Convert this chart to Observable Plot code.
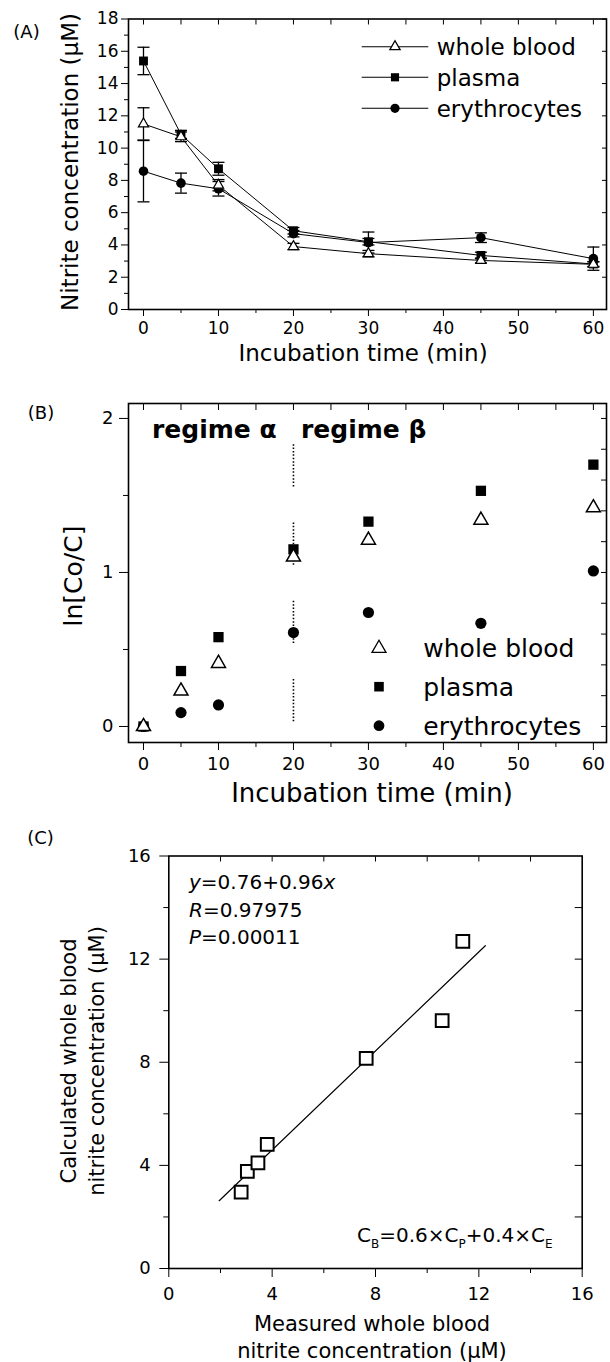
<!DOCTYPE html>
<html><head><meta charset="utf-8">
<script src="https://cdn.jsdelivr.net/npm/d3@7"></script>
<script src="https://cdn.jsdelivr.net/npm/@observablehq/plot@0.6"></script>
<style>
body{margin:0;background:#fff;}
#wrap{position:relative;width:610px;height:1362px;overflow:hidden;background:#fff;}
#wrap > svg{position:absolute;left:0;}
</style></head><body><div id="wrap"></div>
<script>
// ---------- data ----------
const times = [0, 5, 10, 20, 30, 45, 60];
const seriesNames = ["whole blood", "plasma", "erythrocytes"];
// Panel A: nitrite concentration (µM), mean and error
const wholeBlood = [11.5, 10.7, 7.7, 3.9, 3.46, 3.04, 2.8];
const wholeBloodErr = [1.0, 0.3, 0.35, 0.2, 0.2, 0.15, 0.15];
const plasma = [15.4, 10.85, 8.72, 4.88, 4.2, 3.35, 2.82];
const plasmaErr = [0.85, 0.25, 0.4, 0.2, 0.2, 0.2, 0.15];
const erythrocytes = [8.57, 7.83, 7.48, 4.7, 4.15, 4.45, 3.15];
const erythrocytesErr = [1.9, 0.62, 0.45, 0.2, 0.65, 0.3, 0.72];
// Panel B: ln[Co/C]
const lnWholeBlood = [0, 0.23, 0.41, 1.1, 1.21, 1.34, 1.42];
const lnPlasma = [0, 0.36, 0.58, 1.15, 1.33, 1.53, 1.7];
const lnErythrocytes = [0, 0.09, 0.14, 0.61, 0.74, 0.67, 1.01];
const regimeBoundary = [{t: 20, from: 0.03, to: 1.9}];
// Panel C: measured vs calculated whole blood nitrite
const measured = [2.8, 3.04, 3.45, 3.81, 7.64, 10.58, 11.38];
const calculated = [2.96, 3.77, 4.1, 4.81, 8.15, 9.61, 12.69];
const fitX = [1.95, 12.25];
const fitY = [2.63, 12.52];
// ticks
const aXTicks = [0, 10, 20, 30, 40, 50, 60];
const aXMinor = [5, 15, 25, 35, 45, 55];
const aXTop = [0, 5, 10, 15, 20, 25, 30, 35, 40, 45, 50, 55, 60];
const aYTicks = [0, 2, 4, 6, 8, 10, 12, 14, 16, 18];
const aYMinor = [1, 3, 5, 7, 9, 11, 13, 15, 17];
const bYTicks = [0, 1, 2];
const bYMinor = [0.5, 1.5];
const bYRight = [0, 0.2, 0.4, 0.6, 0.8, 1, 1.2, 1.4, 1.6, 1.8, 2];
const cTicks = [0, 4, 8, 12, 16];
const cMinor = [2, 6, 10, 14];
const cInner = [2, 4, 6, 8, 10, 12, 14];

// ---------- tables ----------
const rowsA = times.flatMap((t, i) => [
  {t, v: wholeBlood[i], e: wholeBloodErr[i], s: seriesNames[0]},
  {t, v: plasma[i], e: plasmaErr[i], s: seriesNames[1]},
  {t, v: erythrocytes[i], e: erythrocytesErr[i], s: seriesNames[2]}
]);
const rowsB = times.flatMap((t, i) => [
  {t, v: lnWholeBlood[i], s: seriesNames[0]},
  {t, v: lnPlasma[i], s: seriesNames[1]},
  {t, v: lnErythrocytes[i], s: seriesNames[2]}
]);
const rowsC = measured.map((m, i) => ({m, c: calculated[i]}));
const fitRows = fitX.map((x, i) => ({x, y: fitY[i]}));

const FONT = "DejaVu Sans, Verdana, sans-serif";
const cap = {draw(ctx) { ctx.moveTo(-6, 0); ctx.lineTo(6, 0); }};
const blank = () => "";

function frameAxes(o) {
  return [
    Plot.frame({stroke: "black", strokeWidth: 1.6}),
    Plot.axisX(o.xMajor, {anchor: "bottom", tickSize: o.xTick, tickPadding: o.xPad, label: null, tickFormat: d => String(d)}),
    Plot.axisX(o.xMinor, {anchor: "bottom", tickSize: o.xMinorSize, tickFormat: blank, label: null}),
    Plot.axisX(o.xTop, {anchor: "top", tickSize: -o.topSize, tickFormat: blank, label: null}),
    Plot.axisY(o.yMajor, {anchor: "left", tickSize: o.yTick, tickPadding: o.yPad, label: null, tickFormat: d => String(d)}),
    Plot.axisY(o.yMinor, {anchor: "left", tickSize: o.yMinorSize, tickFormat: blank, label: null}),
    Plot.axisY(o.yRight, {anchor: "right", tickSize: -o.rightSize, tickFormat: blank, label: null})
  ];
}

// ---------- Panel A ----------
const plotA = Plot.plot({
  width: 610, height: 370,
  marginTop: 18.5, marginBottom: 61, marginLeft: 128, marginRight: 4,
  x: {domain: [-2, 61.75]},
  y: {domain: [0, 18]},
  style: {fontFamily: FONT, fontSize: "17px", color: "black", background: "white"},
  marks: [
    Plot.line(rowsA, {x: "t", y: "v", z: "s", stroke: "black", strokeWidth: 1}),
    Plot.ruleX(rowsA, {x: "t", y1: d => d.v - d.e, y2: d => d.v + d.e, stroke: "black", strokeWidth: 1.3}),
    Plot.dot(rowsA, {x: "t", y: d => d.v + d.e, symbol: cap, stroke: "black", strokeWidth: 1.3}),
    Plot.dot(rowsA, {x: "t", y: d => d.v - d.e, symbol: cap, stroke: "black", strokeWidth: 1.3}),
    Plot.dot(rowsA.filter(d => d.s === seriesNames[2]), {x: "t", y: "v", symbol: "circle", r: 4.8, fill: "black"}),
    Plot.dot(rowsA.filter(d => d.s === seriesNames[1]), {x: "t", y: "v", symbol: "square", r: 5, fill: "black"}),
    Plot.dot(rowsA.filter(d => d.s === seriesNames[0]), {x: "t", y: "v", symbol: "triangle", r: 3.8, fill: "white", stroke: "black", strokeWidth: 1.2}),
    ...frameAxes({xMajor: aXTicks, xMinor: aXMinor, xTop: aXTop, yMajor: aYTicks, yMinor: aYMinor, yRight: aYTicks,
      xTick: 7, xPad: 5, xMinorSize: 4, topSize: 5, yTick: 7, yPad: 3, yMinorSize: 4, rightSize: 5})
  ]
});
plotA.style.top = "0px";

// ---------- Panel B ----------
const dots = Array(12).fill("1.5,1.9").concat(["1.5,36"]).join(",");
const plotB = Plot.plot({
  width: 610, height: 440,
  marginTop: 23, marginBottom: 78, marginLeft: 128, marginRight: 4,
  x: {domain: [-2, 61.75]},
  y: {domain: [-0.104, 2.097]},
  style: {fontFamily: FONT, fontSize: "18px", color: "black", background: "white"},
  marks: [
    Plot.ruleX(regimeBoundary, {x: "t", y1: "from", y2: "to", stroke: "black", strokeWidth: 1.6, strokeDasharray: dots}),
    Plot.dot(rowsB.filter(d => d.s === seriesNames[2]), {x: "t", y: "v", symbol: "circle", r: 5.6, fill: "black"}),
    Plot.dot(rowsB.filter(d => d.s === seriesNames[1]), {x: "t", y: "v", symbol: "square", r: 5.8, fill: "black"}),
    Plot.dot(rowsB.filter(d => d.s === seriesNames[0]), {x: "t", y: "v", symbol: "triangle", r: 5.2, fill: "white", stroke: "black", strokeWidth: 1.5}),
    ...frameAxes({xMajor: aXTicks, xMinor: aXMinor, xTop: aXTop, yMajor: bYTicks, yMinor: bYMinor, yRight: bYRight,
      xTick: 8, xPad: 7, xMinorSize: 5, topSize: 6, yTick: 9, yPad: 6, yMinorSize: 5, rightSize: 6})
  ]
});
plotB.style.top = "380px";

// ---------- Panel C ----------
const plotC = Plot.plot({
  width: 610, height: 542,
  marginTop: 35.5, marginBottom: 94, marginLeft: 168.3, marginRight: 28.3,
  x: {domain: [0, 16]},
  y: {domain: [0, 16]},
  style: {fontFamily: FONT, fontSize: "18px", color: "black", background: "white"},
  marks: [
    Plot.line(fitRows, {x: "x", y: "y", stroke: "black", strokeWidth: 1.2}),
    Plot.dot(rowsC, {x: "m", y: "c", symbol: "square", r: 7.2, fill: "white", stroke: "black", strokeWidth: 2}),
    ...frameAxes({xMajor: cTicks, xMinor: cMinor, xTop: cInner, yMajor: cTicks, yMinor: cMinor, yRight: cInner,
      xTick: 9, xPad: 10, xMinorSize: 5, topSize: 5, yTick: 9, yPad: 9, yMinorSize: 5, rightSize: 8})
  ]
});
plotC.style.top = "820px";

const wrap = document.getElementById("wrap");
wrap.append(plotA, plotB, plotC);

// ---------- annotations overlay ----------
const ov = d3.select(wrap).append("svg")
  .attr("width", 610).attr("height", 1362)
  .style("position", "absolute").style("left", 0).style("top", 0)
  .attr("font-family", FONT).attr("fill", "black");

function txt(x, cy, s, fs, opts = {}) {
  const t = ov.append("text")
    .attr("font-size", fs)
    .attr("text-anchor", opts.anchor || "start")
    .attr("font-weight", opts.weight || null);
  if (opts.rotate) {
    t.attr("transform", `translate(${x},${cy}) rotate(-90)`).attr("x", 0).attr("y", 0.36 * fs);
  } else {
    t.attr("x", x).attr("y", cy + 0.36 * fs);
  }
  if (typeof s === "string") t.text(s);
  else s.forEach(p => {
    const ts = t.append("tspan").text(p.t);
    if (p.i) ts.attr("font-style", "italic");
    if (p.sub) ts.attr("font-size", 12).attr("dy", 6);
    if (p.up) ts.attr("dy", -6);
  });
  return t;
}
function sym(x, y, type, r, filled) {
  ov.append("path")
    .attr("transform", `translate(${x},${y})`)
    .attr("d", d3.symbol(type, Math.PI * r * r)())
    .attr("fill", filled ? "black" : "white")
    .attr("stroke", filled ? "none" : "black")
    .attr("stroke-width", 1.3);
}
const symTypes = [d3.symbolTriangle, d3.symbolSquare, d3.symbolCircle];
const symR = [3.8, 4.6, 4.6];

// Panel letters
txt(26.5, 32, "(A)", 18, {anchor: "middle"});
txt(41, 413, "(B)", 18, {anchor: "middle"});
txt(40.5, 838, "(C)", 18, {anchor: "middle"});

// Panel A legend and titles
[46.7, 77.3, 108.3].forEach((y, i) => {
  ov.append("line").attr("x1", 361.7).attr("x2", 428.3).attr("y1", y).attr("y2", y).attr("stroke", "black").attr("stroke-width", 1.1);
  sym(395, y, symTypes[i], symR[i], i > 0);
  txt(436.7, y, seriesNames[i], 23);
});
txt(363, 353, "Incubation time (min)", 23, {anchor: "middle"});
txt(70, 162, "Nitrite concentration (\u00b5M)", 23, {anchor: "middle", rotate: true});

// Panel B
ov.append("text").attr("x", 152).attr("y", 438).attr("font-size", 25).attr("font-weight", "bold").text("regime \u03b1");
ov.append("text").attr("x", 301).attr("y", 438).attr("font-size", 25).attr("font-weight", "bold").text("regime \u03b2");
[648.3, 686.7, 725.7].forEach((y, i) => {
  sym(379, y, symTypes[i], [5.2, 5.4, 5.4][i], i > 0);
  txt(423.3, y, seriesNames[i], 25);
});
txt(372, 793, "Incubation time (min)", 26, {anchor: "middle"});
txt(73, 576, "ln[Co/C]", 25, {anchor: "middle", rotate: true});

// Panel C
txt(189, 882, [{t: "y", i: true}, {t: "=0.76+0.96"}, {t: "x", i: true}], 20);
txt(189, 910, [{t: "R", i: true}, {t: "=0.97975"}], 20);
txt(189, 937, [{t: "P", i: true}, {t: "=0.00011"}], 20);
txt(357, 1235, [{t: "C"}, {t: "B", sub: true}, {t: "=0.6\u00d7C", up: true}, {t: "P", sub: true}, {t: "+0.4\u00d7C", up: true}, {t: "E", sub: true}], 20);
txt(372, 1323, "Measured whole blood", 21, {anchor: "middle"});
txt(372, 1350, "nitrite concentration (\u00b5M)", 21, {anchor: "middle"});
txt(68, 1061, "Calculated whole blood", 21, {anchor: "middle", rotate: true});
txt(96.7, 1061, "nitrite concentration (\u00b5M)", 21, {anchor: "middle", rotate: true});
</script></body></html>
